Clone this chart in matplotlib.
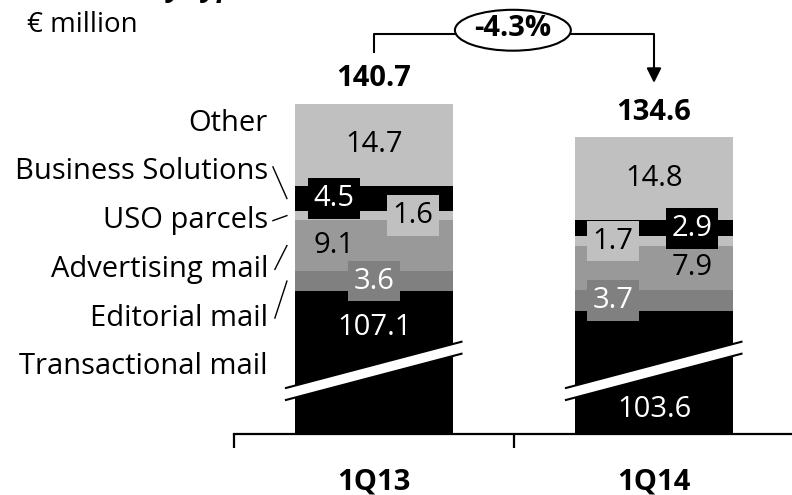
import matplotlib
matplotlib.use("Agg")
import matplotlib.pyplot as plt
from matplotlib.patches import Ellipse, Polygon

plt.rcParams['font.family'] = ['Open Sans', 'DejaVu Sans']

# quarterly revenue by type, € million
quarters = ['1Q13', '1Q14']
segments = ['Transactional mail', 'Editorial mail', 'Advertising mail',
            'USO parcels', 'Business Solutions', 'Other']
transactional = [107.1, 103.6]
editorial = [3.6, 3.7]
advertising = [9.1, 7.9]
uso_parcels = [1.6, 1.7]
business_solutions = [4.5, 2.9]
other = [14.7, 14.8]
totals = [140.7, 134.6]

series = [transactional, editorial, advertising, uso_parcels,
          business_solutions, other]
colors = ['#000000', '#808080', '#999999', '#c0c0c0', '#000000', '#c0c0c0']
text_colors = ['white', 'white', 'black', 'black', 'white', 'black']
# horizontal shift of each value label inside a bar
label_shift = [[0, 0, -0.143, 0.139, -0.143, 0],
               [0, -0.146, 0.136, -0.146, 0.136, 0]]
boxed = [False, True, False, True, True, False]

# transactional mail is drawn on a broken axis
BREAK_CUT = 81.6
trans_label_y = [19.1, 4.3]

W, H = 792, 495
fig = plt.figure(figsize=(W / 100, H / 100), dpi=100)
ax_left, ax_bottom = 234, 61
ax = fig.add_axes([ax_left / W, ax_bottom / H, (W - ax_left) / W, (H - ax_bottom) / H])
ax.set_xlim(-0.5, -0.5 + (W - ax_left) / 280)
ax.set_ylim(0, (H - ax_bottom) / 5.6)
for s in ['left', 'right', 'top']:
    ax.spines[s].set_visible(False)
ax.spines['bottom'].set_linewidth(1.6)
ax.set_yticks([])
ax.set_xticks([-0.5, 0.5])
ax.set_xticklabels([])
ax.tick_params(axis='x', direction='out', length=10, width=1.6)

x = range(len(quarters))
bar_w = 0.564
fs = 21

tops = []
for i in x:
    bottom = 0
    for k, vals in enumerate(series):
        h = vals[i] - BREAK_CUT if k == 0 else vals[i]
        ax.bar(i, h, bar_w, bottom=bottom, color=colors[k], zorder=2)
        ly = trans_label_y[i] if k == 0 else bottom + h / 2
        bbox = None
        if boxed[k]:
            bbox = dict(boxstyle='square,pad=0.2', fc=colors[k], ec='none')
        ax.text(i + label_shift[i][k], ly, f'{vals[i]:.1f}', ha='center',
                va='center', color=text_colors[k], fontsize=fs, bbox=bbox,
                zorder=4)
        bottom += h
    tops.append(bottom)
    ax.text(i, bottom + 4.4, f'{totals[i]:.1f}', ha='center', va='center',
            fontsize=fs, fontweight='bold')
    # break mark across the transactional segment
    x0, x1 = i - 0.318, i + 0.316
    y0, y1 = 7.1, 15.45
    hw = 1.07
    ax.add_patch(Polygon([(x0, y0 - hw), (x1, y1 - hw), (x1, y1 + hw), (x0, y0 + hw)],
                         closed=True, fc='white', ec='none', zorder=5))
    for d in (-hw, hw):
        ax.plot([x0, x1], [y0 + d, y1 + d], color='black', lw=1.5, zorder=6,
                solid_capstyle='butt')

# category names with leader lines to the first bar
label_x = -0.379
for k, name in enumerate(segments):
    ly = 55.5 - (len(segments) - 1 - k) * 8.7
    ax.text(label_x, ly, name, ha='right', va='center', fontsize=fs, clip_on=False)
    if k in (1, 2, 3, 4):
        seg_bottom = sum(series[j][0] for j in range(k)) - BREAK_CUT
        seg_mid = seg_bottom + series[k][0] / 2
        start_y = ly + (0.9 if k == 4 else 0)
        ax.plot([label_x + 0.018 + (0.007 if k < 3 else 0), -0.311],
                [start_y, seg_mid], color='black', lw=1, clip_on=False)

# quarter labels
for i, q in enumerate(quarters):
    ax.text(i, -9.9, q, ha='center', va='baseline', fontsize=fs,
            fontweight='bold', clip_on=False)

# change bracket between the totals
change = (totals[1] / totals[0] - 1) * 100
line_y = 71.4
ell_x, ell_w = 0.496, 0.414
ax.plot([0, 0, ell_x - ell_w / 2], [tops[0] + 9.2, line_y, line_y],
        color='black', lw=1.5, clip_on=False)
ax.plot([ell_x + ell_w / 2, 1, 1], [line_y, line_y, tops[1] + 10.5],
        color='black', lw=1.5, clip_on=False)
ax.annotate('', xy=(1, tops[1] + 9.7), xytext=(1, tops[1] + 11.5),
            arrowprops=dict(arrowstyle='-|>', color='black', lw=1.5,
                            mutation_scale=22, shrinkA=0, shrinkB=0),
            annotation_clip=False)
ax.add_patch(Ellipse((ell_x, 72.1), ell_w, 7.3, fc='white', ec='black',
                     lw=1.5, clip_on=False, zorder=3))
ax.text(ell_x, 72.4, f'{change:.1f}%', ha='center', va='center',
        fontsize=fs, fontweight='bold', zorder=4)

fig.text(27 / W, 1 - 25 / H, '€ million', ha='left', va='center', fontsize=fs - 1)
fig.text(27 / W, 1 + 4 / H, 'Revenue by type', ha='left', va='baseline',
         fontsize=fs, fontweight='bold', fontstyle='italic')

fig.savefig('out.png', dpi=100)
